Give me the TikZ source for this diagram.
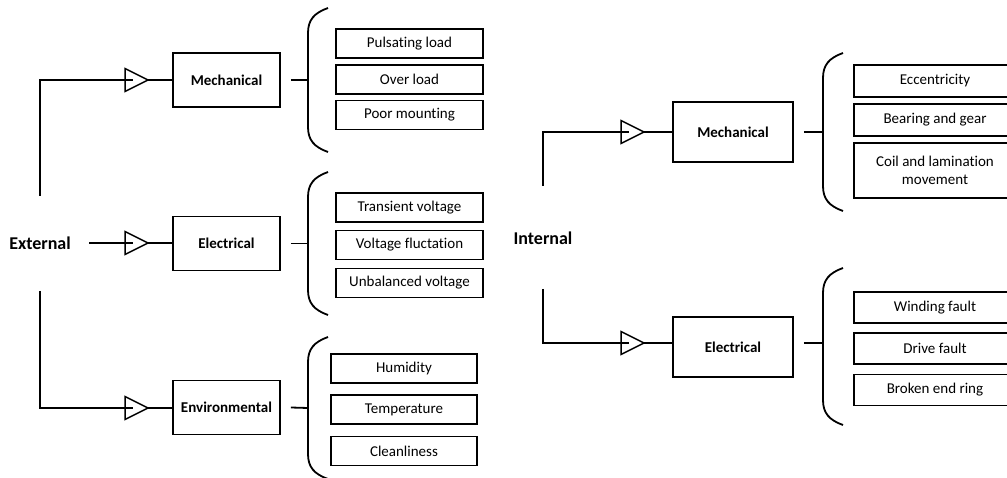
\documentclass[tikz,border=0pt]{standalone}
\usepackage{fontspec}
\setmainfont{Carlito}[Ligatures=CommonOff]
\begin{document}
\begin{tikzpicture}[x=1pt,y=-1pt, line width=1.8pt,
  cat/.style={draw, minimum width=107pt, minimum height=54pt, inner sep=0pt, font=\fontsize{15}{18}\selectfont\bfseries},
  icat/.style={cat, minimum width=120pt, minimum height=60pt},
  leaf/.style={draw, minimum width=147pt, minimum height=29pt, inner sep=0pt, align=center, font=\fontsize{15}{18}\selectfont},
  ileaf/.style={leaf, minimum width=162pt, minimum height=31pt},
  root/.style={font=\fontsize{18}{22}\selectfont\bfseries, inner sep=0pt},
  tri/.style={line width=1.5pt, line join=miter},
  pics/triang/.style={code={
    \draw[tri] (0,-11.5) -- (23,0) -- (0,11.5) -- cycle;
    \coordinate (-in) at (8,0);
    \coordinate (-tip) at (23,0);}},
  pics/brace/.style={code={
    \draw (20,-#1) .. controls (6,-#1+5) and (0,-#1+12) .. (0,-#1+25)
      -- (0,#1-25) .. controls (0,#1-12) and (6,#1-5) .. (20,#1);
    \coordinate (-mid) at (0,0);}},
]
\useasboundingbox (0,0) rectangle (1007,478);
\clip (0,0) rectangle (1007,478);

% ---------------- External ----------------
\node[root] (ext) at (40,243) {External};
\coordinate (extup) at (40,196);
\coordinate (extdn) at (40,291);
\coordinate (extr) at (89,243);

\pic (t1) at (125,80) {triang};
\pic (t2) at (125,243) {triang};
\pic (t3) at (125,408) {triang};

\node[cat] (emech) at (226.5,80) {Mechanical};
\node[cat] (eelec) at (226.5,243.5) {Electrical};
\node[cat] (eenv) at (226.5,407.5) {Environmental};

\draw (extup) |- (t1-in);
\draw (extr) -- (t2-in);
\draw (extdn) |- (t3-in);
\draw (t1-tip) -- (emech.west |- t1-tip);
\draw (t2-tip) -- (eelec.west |- t2-tip);
\draw (t3-tip) -- (eenv.west |- t3-tip);

\pic (b1) at (308,80) {brace=72};
\pic (b2) at (308,243.5) {brace=71.5};
\pic (b3) at (308,408) {brace=71};
\draw ([xshift=10pt]emech.east) -- (b1-mid);
\draw ([xshift=10pt]eelec.east) -- (b2-mid);
\draw ([xshift=10pt]eenv.east) -- (b3-mid);

\node[leaf] (l1) at (409.5,43.5) {Pulsating load};
\node[leaf] (l2) at (409.5,79.5) {Over load};
\node[leaf] (l3) at (409.5,115) {Poor mounting};
\node[leaf] (l4) at (409.5,207.5) {Transient voltage};
\node[leaf] (l5) at (409.5,245) {Voltage fluctation};
\node[leaf] (l6) at (409.5,283) {Unbalanced voltage};
\node[leaf, minimum width=146pt] (l7) at (404,368.5) {Humidity};
\node[leaf, minimum width=146pt] (l8) at (404,409.5) {Temperature};
\node[leaf, minimum width=146pt] (l9) at (404,451) {Cleanliness};

% ---------------- Internal ----------------
\node[root] (int) at (543,238) {Internal};
\coordinate (intup) at (543,186);
\coordinate (intdn) at (543,289);

\pic (t4) at (621,132) {triang};
\pic (t5) at (621,343) {triang};

\node[icat] (imech) at (733,132) {Mechanical};
\node[icat] (ielec) at (733,347) {Electrical};

\draw (intup) |- (t4-in);
\draw (intdn) |- (t5-in);
\draw (t4-tip) -- (imech.west |- t4-tip);
\draw (t5-tip) -- (ielec.west |- t5-tip);

\pic (b4) at (823,132) {brace=79};
\pic (b5) at (823,346.5) {brace=78.5};
\coordinate (b5j) at (823,343);
\draw ([xshift=10pt]imech.east) -- (b4-mid);
\draw ([xshift=10pt]ielec.east |- b5j) -- (b5j);

\node[ileaf, minimum height=32pt] (r1) at (935,81) {Eccentricity};
\node[ileaf, minimum height=32pt] (r2) at (935,120) {Bearing and gear};
\node[ileaf, minimum height=55pt] (r3) at (935,170.5) {Coil and lamination\\movement};
\node[ileaf] (r4) at (935,307.5) {Winding fault};
\node[ileaf] (r5) at (935,348.5) {Drive fault};
\node[ileaf] (r6) at (935,390) {Broken end ring};
\end{tikzpicture}
\end{document}
